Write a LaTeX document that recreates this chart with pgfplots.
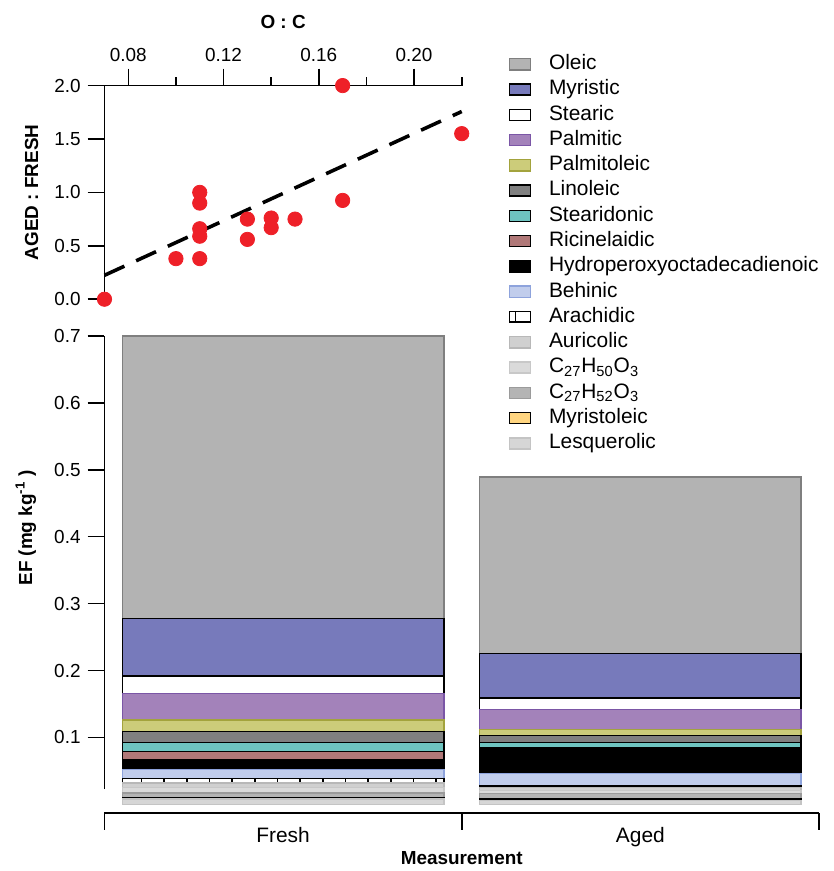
\documentclass[border=0pt]{standalone}
\usepackage{fontspec}
\setmainfont{Liberation Sans}
\usepackage{pgfplots}
\pgfplotsset{compat=1.18}
\usetikzlibrary{patterns}
\definecolor{cOleic}{HTML}{B3B3B3}
\definecolor{cOleicD}{HTML}{7F7F7F}
\definecolor{cMyr}{HTML}{777ABB}
\definecolor{cPalm}{HTML}{A382BA}
\definecolor{cPalmD}{HTML}{7B56A6}
\definecolor{cPalmo}{HTML}{CCCC7A}
\definecolor{cPalmoD}{HTML}{A3A33D}
\definecolor{cLin}{HTML}{808080}
\definecolor{cSted}{HTML}{6EC4C0}
\definecolor{cRic}{HTML}{B07878}
\definecolor{cBeh}{HTML}{C1CDEC}
\definecolor{cBehD}{HTML}{8EA3DC}
\definecolor{cMyro}{HTML}{FFD580}
\definecolor{cCii}{HTML}{B4B4B4}
\definecolor{cCiiD}{HTML}{9B9B9B}
\definecolor{cAur}{HTML}{D0D0D0}
\definecolor{cAurD}{HTML}{B8B8B8}
\definecolor{cCi}{HTML}{DADADA}
\definecolor{cCiD}{HTML}{C8C8C8}
\definecolor{cLes}{HTML}{D6D6D6}
\definecolor{cLesD}{HTML}{C4C4C4}
\definecolor{cRed}{HTML}{EE2028}
\begin{document}
\begin{tikzpicture}
\path (0,0) rectangle (419pt,-435.5pt);
% ---------- top scatter ----------
\begin{axis}[
  at={(52.5pt,-150.35pt)}, anchor=south west,
  scale only axis, width=179.5pt, height=107.35pt,
  xmin=0.07, xmax=0.22, ymin=0, ymax=2,
  axis x line*=top, axis y line*=left, clip=false,
  axis line style={line width=0.8pt},
  xtick={0.08,0.12,0.16,0.20}, minor xtick={0.10,0.14,0.18,0.22},
  ytick={0,0.5,1,1.5,2},
  tick align=outside, major tick length=8.5pt, minor tick length=4.3pt,
  tick style={black, line width=0.8pt},
  /pgf/number format/assume math mode=true,
  x tick label style={/pgf/number format/.cd, fixed, fixed zerofill, precision=2},
  y tick label style={/pgf/number format/.cd, fixed, fixed zerofill, precision=1},
  tick label style={font=\fontsize{9.5}{11}\selectfont},
  xlabel={\textbf{O : C}},
  xlabel style={at={(axis description cs:0.5,1)}, anchor=center, yshift=32pt, font=\fontsize{9.5}{11}\selectfont},
  ylabel={\textbf{AGED : FRESH}},
  ylabel style={at={(axis description cs:-0.204,0.5)}, anchor=center, font=\fontsize{9.5}{11}\selectfont},
]
\addplot[black, line width=1.8pt, dash pattern=on 11pt off 6.5pt] coordinates {(0.07,0.224) (0.22,1.757)};
\addplot[only marks, mark=*, mark size=3.6pt, color=cRed, mark options={fill=cRed, draw=cRed}] coordinates {
(0.07,0.0) (0.17,2.0) (0.22,1.55) (0.17,0.925) (0.11,1.0) (0.11,0.90) (0.11,0.66) (0.11,0.59) (0.11,0.38) (0.10,0.38) (0.13,0.75) (0.13,0.56) (0.14,0.76) (0.14,0.67) (0.15,0.75)};
\end{axis}
% ---------- bottom stacked bars ----------
\begin{axis}[
  at={(52.5pt,-408.5pt)}, anchor=south west,
  scale only axis, width=359pt, height=239.75pt,
  xmin=-0.5, xmax=1.5, ymin=-0.0129, ymax=0.7,
  axis x line*=bottom, axis y line*=left, clip=false,
  axis line style={line width=0.8pt},
  y axis line style={shorten <=12pt},
  ybar stacked, bar width=0.9,
  xtick={-0.5,0.5,1.5}, xticklabels={},
  extra x ticks={0,1}, extra x tick labels={Fresh,Aged},
  extra x tick style={major tick length=0pt},
  ytick={0.1,0.2,0.3,0.4,0.5,0.6,0.7},
  tick align=outside, major tick length=8.5pt,
  tick style={black, line width=0.8pt},
  /pgf/number format/assume math mode=true,
  y tick label style={/pgf/number format/.cd, fixed, fixed zerofill, precision=1},
  tick label style={font=\fontsize{9.5}{11}\selectfont},
  x tick label style={font=\fontsize{10.5}{12}\selectfont, yshift=-3.5pt},
  xlabel={\textbf{Measurement}},
  xlabel style={at={(axis description cs:0.5,0)}, anchor=center, yshift=-22.5pt, font=\fontsize{9.5}{11}\selectfont},
  ylabel={\textbf{EF (mg kg\textsuperscript{-1} )}},
  ylabel style={at={(axis description cs:-0.110,0.598)}, anchor=center, font=\fontsize{9.5}{11}\selectfont},
  every axis plot/.append style={line width=0.7pt},
  legend image code/.code={\draw[#1] (0pt,-2.8pt) rectangle (10.5pt,2.8pt);},
  reverse legend,
  legend style={at={(axis description cs:0.557,1.603)}, anchor=north west, draw=none, fill=none,
    font=\fontsize{10.5}{12}\selectfont, row sep=0.9pt, column sep=8pt,
    nodes={inner sep=1pt, text height=7.6pt, text depth=2.2pt}},
  legend cell align=left,
]
\addplot[fill=cLes, draw=cLesD] coordinates {(0,0.0083) (1,0.006)};
\addlegendentry{Lesquerolic}
\addplot[fill=cMyro, draw=black] coordinates {(0,0.0014) (1,0.002)};
\addlegendentry{Myristoleic}
\addplot[fill=cCii, draw=cCiiD] coordinates {(0,0.0073) (1,0.008)};
\addlegendentry{C\textsubscript{27}H\textsubscript{52}O\textsubscript{3}}
\addplot[fill=cCi, draw=cCiD] coordinates {(0,0.008) (1,0.005)};
\addlegendentry{C\textsubscript{27}H\textsubscript{50}O\textsubscript{3}}
\addplot[fill=cAur, draw=cAurD] coordinates {(0,0.007) (1,0.004)};
\addlegendentry{Auricolic}
\addplot[fill=white, draw=black, postaction={pattern=bricks, pattern color=black}] coordinates {(0,0.007) (1,0.003)};
\addlegendentry{Arachidic}
\addplot[fill=cBeh, draw=cBehD] coordinates {(0,0.013) (1,0.018)};
\addlegendentry{Behinic}
\addplot[fill=black, draw=black] coordinates {(0,0.015) (1,0.037)};
\addlegendentry{Hydroperoxyoctadecadienoic}
\addplot[fill=cRic, draw=black] coordinates {(0,0.012) (1,0.001)};
\addlegendentry{Ricinelaidic}
\addplot[fill=cSted, draw=black] coordinates {(0,0.013) (1,0.008)};
\addlegendentry{Stearidonic}
\addplot[fill=cLin, draw=black] coordinates {(0,0.017) (1,0.011)};
\addlegendentry{Linoleic}
\addplot[fill=cPalmo, draw=cPalmoD] coordinates {(0,0.017) (1,0.009)};
\addlegendentry{Palmitoleic}
\addplot[fill=cPalm, draw=cPalmD] coordinates {(0,0.040) (1,0.030)};
\addlegendentry{Palmitic}
\addplot[fill=white, draw=black] coordinates {(0,0.026) (1,0.017)};
\addlegendentry{Stearic}
\addplot[fill=cMyr, draw=black] coordinates {(0,0.086) (1,0.066)};
\addlegendentry{Myristic}
\addplot[fill=cOleic, draw=cOleicD] coordinates {(0,0.422) (1,0.264)};
\addlegendentry{Oleic}
\end{axis}
\end{tikzpicture}
\end{document}
